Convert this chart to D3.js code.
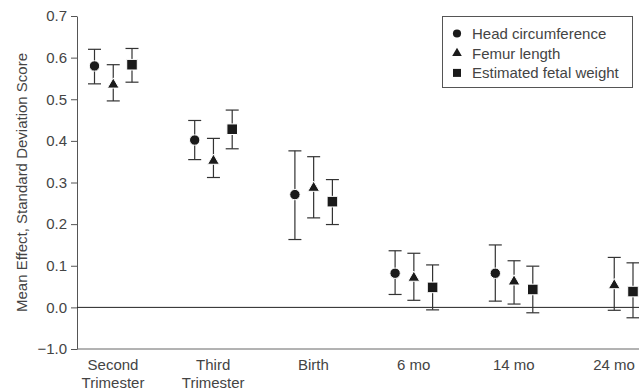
<!DOCTYPE html>
<html>
<head>
<meta charset="utf-8">
<script src="https://cdn.jsdelivr.net/npm/d3@7"></script>
<style>
  body { margin: 0; background: #fff; }
  text { font-family: "Liberation Sans", Arial, sans-serif; fill: #444; }
</style>
</head>
<body>
<div id="chart"></div>
<script>
// Categories (time points), each label split over lines
const categories = ["Second Trimester", "Third Trimester", "Birth", "6 mo", "14 mo", "24 mo"];
const categoryLines = [["Second", "Trimester"], ["Third", "Trimester"], ["Birth"], ["6 mo"], ["14 mo"], ["24 mo"]];

// Series: mean and 95% CI bounds (null = not reported)
const seriesNames = ["Head circumference", "Femur length", "Estimated fetal weight"];
const seriesSymbols = ["circle", "triangle", "square"];

const headMean = [0.580, 0.402, 0.271, 0.082, 0.082, null];
const headLow  = [0.537, 0.355, 0.163, 0.031, 0.015, null];
const headHigh = [0.620, 0.449, 0.376, 0.136, 0.150, null];

const femurMean = [0.535, 0.352, 0.287, 0.071, 0.062, 0.053];
const femurLow  = [0.496, 0.312, 0.215, 0.017, 0.008, -0.007];
const femurHigh = [0.583, 0.406, 0.362, 0.130, 0.112, 0.120];

const efwMean = [0.583, 0.428, 0.254, 0.048, 0.043, 0.038];
const efwLow  = [0.541, 0.381, 0.199, -0.006, -0.013, -0.025];
const efwHigh = [0.622, 0.474, 0.307, 0.102, 0.099, 0.107];

// Y tick values and their printed labels (the source prints "−1.0" at the bottom tick)
const yTicks = [-0.1, 0, 0.1, 0.2, 0.3, 0.4, 0.5, 0.6, 0.7];
const yTickLabels = ["\u22121.0", "0.0", "0.1", "0.2", "0.3", "0.4", "0.5", "0.6", "0.7"];

const width = 639, height = 391;
const margin = { top: 16, right: 0, bottom: 42, left: 77 };

const svg = d3.select('#chart').append('svg')
    .attr('width', width)
    .attr('height', height);

const xScale = d3.scalePoint()
    .domain(categories)
    .range([113, 614]);

const offsetScale = d3.scalePoint()
    .domain(seriesNames)
    .range([-18.5, 19]);

const yScale = d3.scaleLinear()
    .domain([-0.1, 0.7])
    .range([height - margin.bottom, margin.top]);

// Y axis
const yAxis = d3.axisLeft(yScale)
    .tickValues(yTicks)
    .tickFormat((d, i) => yTickLabels[i])
    .tickSize(6)
    .tickSizeOuter(0)
    .tickPadding(4);

const yAxisGroup = svg.append('g')
    .attr('transform', `translate(${margin.left},0)`)
    .call(yAxis);
yAxisGroup.select('.domain').attr('stroke', '#555');
yAxisGroup.selectAll('.tick line').attr('stroke', '#555');
yAxisGroup.selectAll('.tick text')
    .attr('font-size', 15)
    .attr('fill', '#444');

// X axis line (no ticks)
svg.append('line')
    .attr('x1', margin.left).attr('x2', width)
    .attr('y1', yScale(-0.1)).attr('y2', yScale(-0.1))
    .attr('stroke', '#666');

// zero reference line
svg.append('line')
    .attr('x1', margin.left).attr('x2', width)
    .attr('y1', yScale(0)).attr('y2', yScale(0))
    .attr('stroke', '#222');

// category labels
const catLabels = svg.append('g').selectAll('text')
    .data(categories)
    .join('text')
    .attr('x', d => xScale(d))
    .attr('y', 370)
    .attr('text-anchor', 'middle')
    .attr('font-size', 15);
catLabels.selectAll('tspan')
    .data((d, i) => categoryLines[i])
    .join('tspan')
    .attr('x', function () { return d3.select(this.parentNode).attr('x'); })
    .attr('dy', (d, i) => i === 0 ? 0 : 18)
    .text(d => d);

// Y axis title
svg.append('text')
    .attr('transform', `translate(27, ${yScale(0.3)}) rotate(-90)`)
    .attr('text-anchor', 'middle')
    .attr('font-size', 15)
    .text('Mean Effect, Standard Deviation Score');

// Build point table from the arrays
const means = [headMean, femurMean, efwMean];
const lows = [headLow, femurLow, efwLow];
const highs = [headHigh, femurHigh, efwHigh];
const points = [];
seriesNames.forEach((s, si) => {
    categories.forEach((c, ci) => {
        if (means[si][ci] === null) return;
        points.push({ series: s, symbol: seriesSymbols[si], cat: c,
            mean: means[si][ci], low: lows[si][ci], high: highs[si][ci] });
    });
});

const symbolType = { circle: d3.symbolCircle, triangle: d3.symbolTriangle, square: d3.symbolSquare };
const symbolSize = { circle: 85, triangle: 60, square: 112 };
const xOf = d => xScale(d.cat) + offsetScale(d.series);

const capHalf = 6.5;
const bars = svg.append('g').selectAll('g')
    .data(points)
    .join('g')
    .attr('stroke', '#333')
    .attr('stroke-width', 1.2);
bars.append('line')
    .attr('x1', xOf).attr('x2', xOf)
    .attr('y1', d => yScale(d.low)).attr('y2', d => yScale(d.high));
bars.append('line')
    .attr('x1', d => xOf(d) - capHalf).attr('x2', d => xOf(d) + capHalf)
    .attr('y1', d => yScale(d.high)).attr('y2', d => yScale(d.high));
bars.append('line')
    .attr('x1', d => xOf(d) - capHalf).attr('x2', d => xOf(d) + capHalf)
    .attr('y1', d => yScale(d.low)).attr('y2', d => yScale(d.low));

svg.append('g').selectAll('path')
    .data(points)
    .join('path')
    .attr('transform', d => `translate(${xOf(d)},${yScale(d.mean)})`)
    .attr('d', d => d3.symbol(symbolType[d.symbol], symbolSize[d.symbol])())
    .attr('fill', '#1a1a1a')
    .attr('stroke', '#fff')
    .attr('stroke-width', 1);

// Legend
const legend = svg.append('g').attr('transform', 'translate(442,16)');
legend.append('rect')
    .attr('x', 0.5).attr('y', 0.5)
    .attr('width', 190).attr('height', 71)
    .attr('fill', '#fff')
    .attr('stroke', '#555');
const legendItems = legend.selectAll('.item')
    .data(seriesNames)
    .join('g')
    .attr('class', 'item')
    .attr('transform', (d, i) => `translate(15, ${17.5 + i * 19.7})`);
legendItems.append('path')
    .attr('d', (d, i) => d3.symbol(symbolType[seriesSymbols[i]], { circle: 52, triangle: 40, square: 64 }[seriesSymbols[i]])())
    .attr('fill', '#1a1a1a');
legendItems.append('text')
    .attr('x', 15)
    .attr('y', 5.5)
    .attr('font-size', 15)
    .text(d => d);
</script>
</body>
</html>
